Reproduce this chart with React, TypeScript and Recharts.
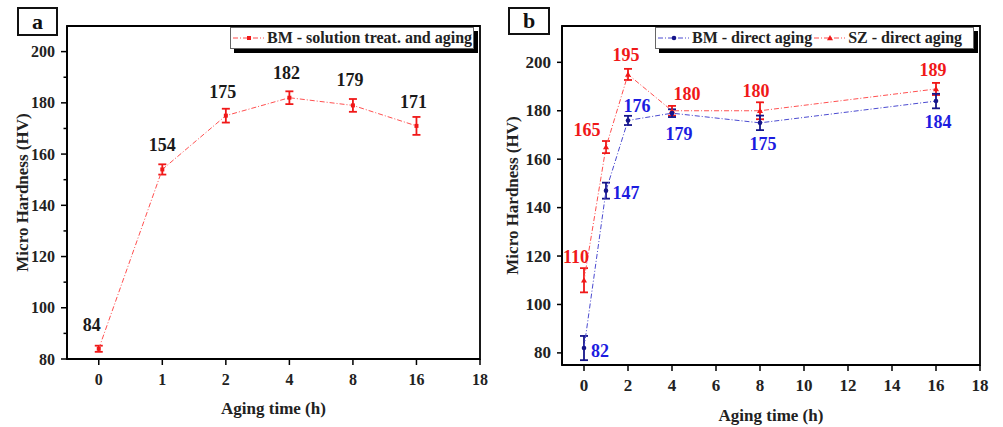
import React from 'react';
import { LineChart, Line, XAxis, YAxis, ErrorBar, LabelList, ReferenceArea, Legend } from 'recharts';

// ---------- data ----------
const catA = ['0', '1', '2', '4', '8', '16', '18'];
const hardA = [84, 154, 175, 182, 179, 171];
const errA = [1.2, 2, 2.7, 2.5, 2.5, 3.5];

const timeB = [0, 1, 2, 4, 8, 16];
const hardBM = [82, 147, 176, 179, 175, 184];
const errBM = [5, 3.3, 1.9, 1.6, 3, 3];
const hardSZ = [110, 165, 195, 180, 180, 189];
const errSZ = [5, 2.5, 2.3, 2, 3.5, 2.5];

const ticksA = [80, 90, 100, 110, 120, 130, 140, 150, 160, 170, 180, 190, 200];
const ticksBY = [80, 100, 120, 140, 160, 180, 200];
const ticksBX = [0, 2, 4, 6, 8, 10, 12, 14, 16, 18];

// label placements (dx, dy from point)
const labelOffA = [[-7, -24], [0, -24], [-3, -24], [-3, -25], [-3, -25], [-3, -24]];
const labelOffSZ = [[-8, -23], [-19, -17], [-2, -19], [15, -17], [-4, -20], [-3, -19]];
const labelOffBM = [[16, 3], [20, 2], [9, -14], [7, 21], [3, 21], [2, 21]];

const dataA = hardA.map((v, i) => ({ x: i, hv: v, err: errA[i] }));
const dataB = timeB.map((t, i) => ({ t, bm: hardBM[i], bmErr: errBM[i], sz: hardSZ[i], szErr: errSZ[i] }));

const FONT = '"Liberation Serif", "Times New Roman", serif';
const RED = '#f01818';
const BLUE = '#1c1ce0';
const NAVY = '#15158a';

// ---------- helpers ----------
const YTick = (props: any) => {
  const { x, y, payload, major, fs } = props;
  const axisX = x + 12;
  const isMajor = major ? major(payload.value) : true;
  return (
    <g>
      <line x1={axisX} x2={axisX - (isMajor ? 6 : 3.5)} y1={y} y2={y} stroke="#000" strokeWidth={1.5} />
      {isMajor && (
        <text x={x} y={y} textAnchor="end" dominantBaseline="central" fontFamily={FONT} fontWeight="bold" fontSize={fs || 16} fill="#222">
          {payload.value}
        </text>
      )}
    </g>
  );
};

const XTick = (props: any) => {
  const { x, y, payload, fmt, fs } = props;
  const axisY = y - 20;
  return (
    <g>
      <line x1={x} x2={x} y1={axisY} y2={axisY + 6} stroke="#000" strokeWidth={1.5} />
      <text x={x} y={y} textAnchor="middle" dominantBaseline="central" fontFamily={FONT} fontWeight="bold" fontSize={fs || 16} fill="#222">
        {fmt ? fmt(payload.value) : payload.value}
      </text>
    </g>
  );
};

const XTitle = (props: any) => {
  const vb = props.viewBox || {};
  return (
    <text x={vb.x + vb.width / 2} y={vb.y + props.dy} textAnchor="middle" dominantBaseline="central" fontFamily={FONT} fontWeight="bold" fontSize={17} fill="#222">
      {props.text}
    </text>
  );
};

const YTitle = (props: any) => {
  const vb = props.viewBox || {};
  const cx = vb.x + props.dx;
  const cy = vb.y + vb.height / 2;
  return (
    <text x={cx} y={cy} transform={`rotate(-90 ${cx} ${cy})`} textAnchor="middle" dominantBaseline="central" fontFamily={FONT} fontWeight="bold" fontSize={17} fill="#222">
      {props.text}
    </text>
  );
};

const makeLabel = (offs: number[][], color: string) => (p: any) => {
  const idx = p.index ?? 0;
  const px = p.viewBox?.x ?? p.x;
  const py = p.viewBox?.y ?? p.y;
  const o = offs[idx] || [0, -20];
  return (
    <text key={`lb-${idx}`} x={px + o[0]} y={py + o[1]} textAnchor="middle" dominantBaseline="central" fontFamily={FONT} fontWeight="bold" fontSize={18} fill={color}>
      {p.value}
    </text>
  );
};

const squareDot = (color: string) => (p: any) => (
  <rect key={`d-${p.index}`} x={p.cx - 2} y={p.cy - 2} width={4} height={4} fill={color} />
);
const circleDot = (color: string) => (p: any) => (
  <circle key={`c-${p.index}`} cx={p.cx} cy={p.cy} r={2.3} fill={color} />
);
const triDot = (color: string) => (p: any) => (
  <path key={`t-${p.index}`} d={`M${p.cx},${p.cy - 3} L${p.cx + 3},${p.cy + 2.2} L${p.cx - 3},${p.cy + 2.2} Z`} fill={color} />
);

const legendBox: React.CSSProperties = {
  height: 22,
  border: '1px solid #666',
  background: '#fff',
  boxShadow: '4px 4px 0 #000',
  display: 'flex',
  alignItems: 'center',
  boxSizing: 'border-box',
  fontFamily: FONT,
  fontWeight: 'bold',
  fontSize: 16,
  color: '#222',
  whiteSpace: 'nowrap',
  overflow: 'hidden',
};

const Sample = ({ color, marker }: { color: string; marker: 'sq' | 'ci' | 'tri' }) => (
  <svg width={36} height={20} style={{ flex: 'none' }}>
    <line x1={2} y1={10} x2={33} y2={10} stroke={color} strokeWidth={1} strokeDasharray="5 2 1 2" />
    {marker === 'sq' && <rect x={16} y={8} width={4} height={4} fill={RED} />}
    {marker === 'ci' && <circle cx={18} cy={10} r={2.3} fill={NAVY} />}
    {marker === 'tri' && <path d="M18,7 L21,12.2 L15,12.2 Z" fill={RED} />}
  </svg>
);

const LegendA = () => (
  <div style={{ ...legendBox, width: 244 }}>
    <Sample color="#ff4a4a" marker="sq" />
    <span>BM - solution treat. and aging</span>
  </div>
);

const LegendB = () => (
  <div style={{ ...legendBox, width: 319 }}>
    <Sample color="#4a4ad0" marker="ci" />
    <span>BM - direct aging</span>
    <Sample color="#ff4a4a" marker="tri" />
    <span>SZ - direct aging</span>
  </div>
);

const PanelTag = ({ text, left, width, height }: any) => (
  <div
    style={{
      position: 'absolute',
      left,
      top: 7,
      width,
      height,
      border: '2px solid #111',
      boxSizing: 'border-box',
      display: 'flex',
      alignItems: 'center',
      justifyContent: 'center',
      fontFamily: FONT,
      fontWeight: 'bold',
      fontSize: 22,
      color: '#111',
      background: '#fff',
    }}
  >
    {text}
  </div>
);

export default function App() {
  return (
    <div style={{ position: 'absolute', left: 0, top: 0, width: 1003, height: 427, background: '#fff', overflow: 'hidden' }}>
      {/* Panel a */}
      <div style={{ position: 'absolute', left: 0, top: 0 }}>
        <LineChart width={500} height={427} data={dataA} margin={{ top: 26, right: 20, bottom: 0, left: 0 }}>
          <ReferenceArea x1={-0.5} x2={6} y1={80} y2={210} fill="none" stroke="#000" strokeWidth={1.8} ifOverflow="visible" />
          <XAxis
            type="number"
            dataKey="x"
            domain={[-0.5, 6]}
            ticks={[0, 1, 2, 3, 4, 5, 6]}
            height={68}
            axisLine={{ stroke: '#000', strokeWidth: 1.8 }}
            tickLine={false}
            tickSize={6}
            tickMargin={14}
            tick={<XTick fmt={(v: number) => catA[v]} />}
            label={<XTitle text="Aging time (h)" dy={49} />}
            allowDataOverflow
          />
          <YAxis
            type="number"
            domain={[80, 210]}
            ticks={ticksA}
            width={67}
            axisLine={{ stroke: '#000', strokeWidth: 1.8 }}
            tickLine={false}
            tickSize={6}
            tickMargin={6}
            tick={<YTick major={(v: number) => v % 20 === 0} />}
            label={<YTitle text="Micro Hardness (HV)" dx={22} />}
            allowDataOverflow
          />
          <Line
            dataKey="hv"
            stroke="#ff5050"
            strokeWidth={1}
            strokeDasharray="5 2 1 2"
            dot={squareDot(RED)}
            isAnimationActive={false}
          >
            <ErrorBar dataKey="err" width={4} stroke={RED} strokeWidth={1.8} direction="y" />
            <LabelList dataKey="hv" content={makeLabel(labelOffA, '#1a1a1a')} />
          </Line>
          <Legend
            layout="horizontal"
            align="center"
            verticalAlign="middle"
            content={<LegendA />}
            wrapperStyle={{ left: 230, top: 27, width: 244, height: 22 }}
          />
        </LineChart>
      </div>

      {/* Panel b */}
      <div style={{ position: 'absolute', left: 500, top: 0 }}>
        <LineChart width={503} height={427} data={dataB} margin={{ top: 26, right: 23, bottom: 0, left: 0 }}>
          <ReferenceArea x1={-1} x2={18} y1={75} y2={215} fill="none" stroke="#000" strokeWidth={1.8} ifOverflow="visible" />
          <XAxis
            type="number"
            dataKey="t"
            domain={[-1, 18]}
            ticks={ticksBX}
            height={62}
            axisLine={{ stroke: '#000', strokeWidth: 1.8 }}
            tickLine={false}
            tickSize={6}
            tickMargin={14}
            tick={<XTick fs={17} />}
            label={<XTitle text="Aging time (h)" dy={50} />}
            allowDataOverflow
          />
          <YAxis
            type="number"
            domain={[75, 215]}
            ticks={ticksBY}
            width={62}
            axisLine={{ stroke: '#000', strokeWidth: 1.8 }}
            tickLine={false}
            tickSize={6}
            tickMargin={5}
            tick={<YTick fs={17} />}
            label={<YTitle text="Micro Hardness (HV)" dx={12} />}
            allowDataOverflow
          />
          <Line
            dataKey="sz"
            stroke="#ff5050"
            strokeWidth={1}
            strokeDasharray="5 2 1 2"
            dot={triDot(RED)}
            isAnimationActive={false}
          >
            <ErrorBar dataKey="szErr" width={4} stroke={RED} strokeWidth={1.8} direction="y" />
            <LabelList dataKey="sz" content={makeLabel(labelOffSZ, RED)} />
          </Line>
          <Line
            dataKey="bm"
            stroke="#4a4ad0"
            strokeWidth={1}
            strokeDasharray="5 2 1 2"
            dot={circleDot(NAVY)}
            isAnimationActive={false}
          >
            <ErrorBar dataKey="bmErr" width={4} stroke={NAVY} strokeWidth={1.8} direction="y" />
            <LabelList dataKey="bm" content={makeLabel(labelOffBM, BLUE)} />
          </Line>
          <Legend
            layout="horizontal"
            align="center"
            verticalAlign="middle"
            content={<LegendB />}
            wrapperStyle={{ left: 155, top: 27, width: 319, height: 22 }}
          />
        </LineChart>
      </div>

      <PanelTag text="a" left={17} width={41} height={29} />
      <PanelTag text="b" left={508} width={42} height={28} />
    </div>
  );
}
